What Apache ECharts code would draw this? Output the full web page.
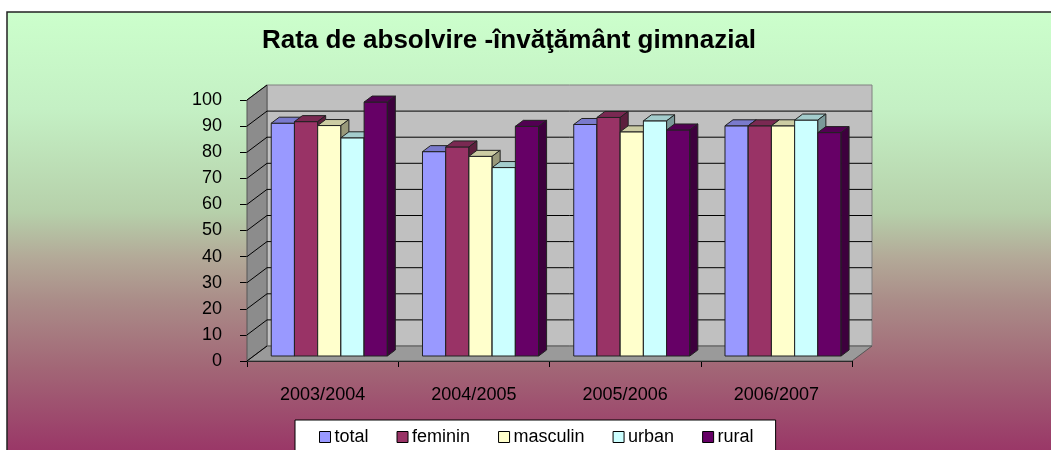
<!DOCTYPE html>
<html>
<head>
<meta charset="utf-8">
<script src="https://cdn.jsdelivr.net/npm/echarts@6/dist/echarts.min.js"></script>
<style>
  html, body { margin: 0; padding: 0; background: #fff; }
  #main { width: 1051px; height: 450px; }
</style>
</head>
<body>
<div id="main"></div>
<script>
// date
const categories = ['2003/2004', '2004/2005', '2005/2006', '2006/2007']
const yTicks = [0, 10, 20, 30, 40, 50, 60, 70, 80, 90, 100]
const total = [89.2, 78.3, 88.7, 88.2]
const feminin = [89.8, 80.1, 91.4, 88.2]
const masculin = [88.3, 76.5, 85.9, 88.2]
const urban = [83.6, 72.2, 90.1, 90.4]
const rural = [97.3, 88.0, 86.6, 85.6]

const seriesNames = ['total', 'feminin', 'masculin', 'urban', 'rural']
const seriesData = [total, feminin, masculin, urban, rural]
const colors = ['#9999FF', '#993366', '#FFFFCC', '#CCFFFF', '#660066']

// adancimea peretilor (efect 3D ca in Excel)
const DX = 20, DY = 15
const BDX = 8, BDY = 6

function shade (hex, f) {
  const n = parseInt(hex.slice(1), 16)
  const r = Math.round(((n >> 16) & 255) * f)
  const g = Math.round(((n >> 8) & 255) * f)
  const b = Math.round((n & 255) * f)
  return 'rgb(' + r + ',' + g + ',' + b + ')'
}

function renderWalls (params, api) {
  const cs = params.coordSys
  const x = cs.x, y = cs.y, w = cs.width, h = cs.height
  const children = []
  // peretele din spate
  children.push({
    type: 'rect',
    shape: { x: x + DX, y: y - DY, width: w, height: h },
    style: { fill: '#C0C0C0', stroke: '#808080', lineWidth: 1 }
  })
  // peretele din stanga
  children.push({
    type: 'polygon',
    shape: { points: [[x, y + h], [x, y], [x + DX, y - DY], [x + DX, y + h - DY]] },
    style: { fill: '#8C8C8C', stroke: '#555', lineWidth: 1 }
  })
  // podeaua
  children.push({
    type: 'polygon',
    shape: { points: [[x, y + h], [x + w, y + h], [x + w + DX, y + h - DY], [x + DX, y + h - DY]] },
    style: { fill: '#9A9A9A', stroke: '#555', lineWidth: 1 }
  })
  yTicks.forEach(function (v) {
    const yy = api.coord([0, v])[1]
    if (v > 0 && v < 100) {
      children.push({
        type: 'line',
        shape: { x1: x + DX, y1: yy - DY, x2: x + DX + w, y2: yy - DY },
        style: { stroke: '#000', lineWidth: 1 }
      })
    }
    children.push({
      type: 'line',
      shape: { x1: x, y1: yy, x2: x + DX, y2: yy - DY },
      style: { stroke: '#000', lineWidth: 1 }
    })
  })
  return { type: 'group', children: children }
}

function makeBarRender (si) {
  return function (params, api) {
    const cat = api.value(0)
    const val = api.value(1)
    const band = api.size([1, 0])[0]
    const base = api.coord([cat, 0])
    const top = api.coord([cat, val])
    const w = band * 0.1535
    const x0 = base[0] + DX / 3 - 2.5 * w + si * w
    const yb = base[1] - DY / 3
    const yt = top[1] - DY / 3
    const c = colors[si]
    const line = { stroke: '#222', lineWidth: 1 }
    return {
      type: 'group',
      children: [
        { type: 'rect', shape: { x: x0, y: yt, width: w, height: yb - yt }, style: Object.assign({ fill: c }, line) },
        { type: 'polygon', shape: { points: [[x0, yt], [x0 + w, yt], [x0 + w + BDX, yt - BDY], [x0 + BDX, yt - BDY]] }, style: Object.assign({ fill: shade(c, 0.8) }, line) },
        { type: 'polygon', shape: { points: [[x0 + w, yt], [x0 + w + BDX, yt - BDY], [x0 + w + BDX, yb - BDY], [x0 + w, yb]] }, style: Object.assign({ fill: shade(c, 0.6) }, line) }
      ]
    }
  }
}

let myChart = echarts.init(document.getElementById('main'))

const series = [{
  type: 'custom',
  name: 'walls',
  silent: true,
  renderItem: renderWalls,
  data: [[0, 0]]
}]
seriesNames.forEach(function (name, si) {
  series.push({
    type: 'custom',
    name: name,
    renderItem: makeBarRender(si),
    itemStyle: { color: colors[si], borderColor: '#000', borderWidth: 1 },
    data: seriesData[si].map(function (v, i) { return [i, v] })
  })
})

myChart.setOption({
  animation: false,
  graphic: [
    {
      type: 'rect',
      z: -10,
      shape: { x: 7, y: 12, width: 1060, height: 445 },
      style: {
        fill: new echarts.graphic.LinearGradient(0, 0, 0, 1, [
          { offset: 0, color: '#CCFFCC' },
          { offset: 0.22, color: '#C4F0C4' },
          { offset: 0.45, color: '#B6D0AA' },
          { offset: 0.55, color: '#B3AA98' },
          { offset: 0.65, color: '#AA8C88' },
          { offset: 0.8, color: '#A26676' },
          { offset: 1, color: '#993366' }
        ]),
        stroke: '#222',
        lineWidth: 1.5
      }
    },
    {
      type: 'text',
      z: 10,
      style: {
        x: 509,
        y: 41,
        text: 'Rata de absolvire -învăţământ gimnazial',
        textAlign: 'center',
        textVerticalAlign: 'middle',
        font: 'bold 26px "Liberation Sans", Arial, sans-serif',
        fill: '#000'
      }
    }
  ],
  legend: {
    data: seriesNames,
    left: 295,
    top: 420,
    padding: [8, 22, 9, 24],
    backgroundColor: '#fff',
    borderColor: '#000',
    borderWidth: 1,
    borderRadius: 0,
    icon: 'rect',
    itemWidth: 11,
    itemHeight: 11,
    itemGap: 28,
    itemStyle: { borderColor: '#000', borderWidth: 1 },
    textStyle: { fontFamily: '"Liberation Sans", Arial, sans-serif', fontSize: 18, color: '#000', padding: [0, 0, 0, -1] },
    selectedMode: false
  },
  grid: { left: 247, right: 199, top: 100, bottom: 89 },
  xAxis: {
    type: 'category',
    data: categories,
    axisLine: { show: true, lineStyle: { color: '#000', width: 1 } },
    axisTick: { show: true, length: 6, lineStyle: { color: '#000' } },
    axisLabel: { margin: 25, fontSize: 18, color: '#000', fontFamily: '"Liberation Sans", Arial, sans-serif' },
    splitLine: { show: false }
  },
  yAxis: {
    type: 'value',
    min: 0,
    max: 100,
    interval: 10,
    axisLine: { show: true, lineStyle: { color: '#000', width: 1 } },
    axisTick: { show: true, length: 7, lineStyle: { color: '#000' } },
    axisLabel: { margin: 25, fontSize: 18, color: '#000', fontFamily: '"Liberation Sans", Arial, sans-serif' },
    splitLine: { show: false }
  },
  series: series
})
</script>
</body>
</html>
